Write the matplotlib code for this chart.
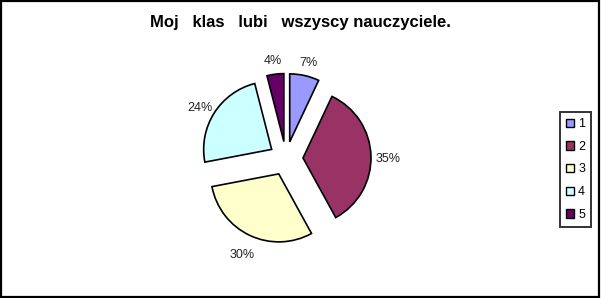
import matplotlib.pyplot as plt
from matplotlib.patches import Rectangle, Patch

plt.rcParams['font.family'] = ['Liberation Sans', 'DejaVu Sans']

categories = ['1', '2', '3', '4', '5']
values = [7, 35, 30, 24, 4]
colors = ['#9999FF', '#993366', '#FFFFCC', '#CCFFFF', '#660066']
title = 'Moj   klas   lubi   wszyscy nauczyciele.'

W, H = 601, 298
fig = plt.figure(figsize=(W / 100, H / 100), dpi=100)
ax = fig.add_axes([0, 0, 1, 1])

# explode is in data units here (axes are in pixels)
wedges, texts, autotexts = ax.pie(
    values, colors=colors, startangle=90, counterclock=False,
    center=(286, H - 158.5), radius=68, explode=[17] * len(values),
    autopct=lambda p: '%.0f%%' % p, pctdistance=1.25,
    wedgeprops=dict(edgecolor='black', linewidth=1.2),
    textprops=dict(fontsize=9, color='#222222'))
# Excel sets its labels a little lower
for t in autotexts:
    x, y = t.get_position()
    t.set_position((x, y - 4))
ax.set_xlim(0, W)
ax.set_ylim(0, H)
ax.axis('off')

fig.text(300 / W, 1 - 22 / H, title, ha='center', va='center',
         fontsize=12, fontweight='bold')

handles = [Patch(facecolor=c, edgecolor='black', linewidth=1.0) for c in colors]
leg = fig.legend(handles, categories, loc='upper left',
                 bbox_to_anchor=(560 / W, 1 - 112 / H), borderaxespad=0,
                 fontsize=9, frameon=True, fancybox=False,
                 handlelength=0.65, handleheight=0.65, handletextpad=0.3,
                 labelspacing=0.85, borderpad=0.5)
leg.get_frame().set_edgecolor('black')
leg.get_frame().set_linewidth(1.4)

fig.patches.append(Rectangle((0.001, 0.003), 0.996, 0.995, transform=fig.transFigure,
                             fill=False, edgecolor='black', linewidth=1.6))

fig.savefig('out.png', dpi=100)
